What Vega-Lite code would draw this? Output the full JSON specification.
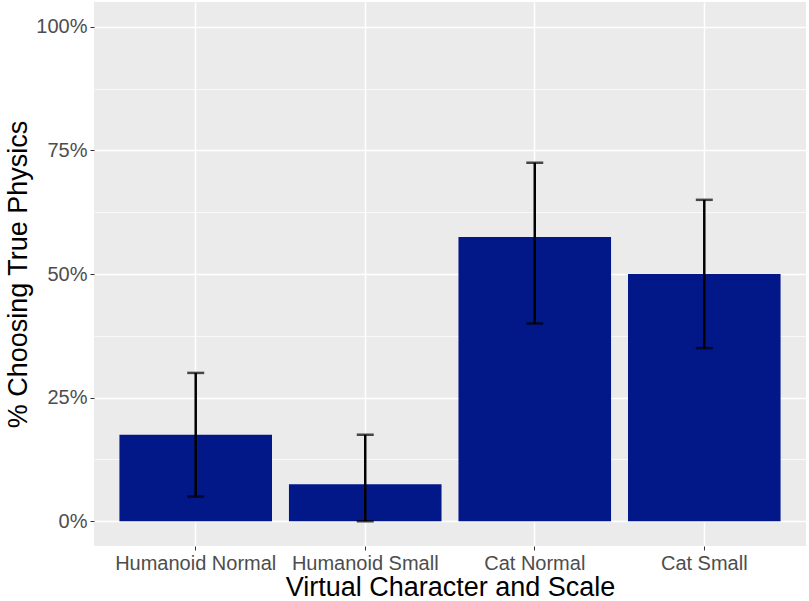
{
  "$schema": "https://vega.github.io/schema/vega-lite/v6.json",
  "width": 712,
  "height": 544,
  "autosize": "none",
  "padding": {"left": 94, "top": 2, "right": 3, "bottom": 55},
  "background": "white",
  "data": {
    "values": [
      {"condition": "Humanoid Normal", "pct": 0.175, "lo": 0.05, "hi": 0.30},
      {"condition": "Humanoid Small", "pct": 0.075, "lo": 0.0, "hi": 0.175},
      {"condition": "Cat Normal", "pct": 0.575, "lo": 0.40, "hi": 0.725},
      {"condition": "Cat Small", "pct": 0.50, "lo": 0.35, "hi": 0.65}
    ]
  },
  "layer": [
    {
      "mark": {"type": "bar", "color": "#021889"},
      "encoding": {
        "x": {
          "field": "condition",
          "type": "nominal",
          "sort": null,
          "scale": {"paddingInner": 0.1, "paddingOuter": 0.15},
          "axis": {
            "title": "Virtual Character and Scale",
            "labelAngle": 0,
            "grid": true,
            "bandPosition": 0.5,
            "gridColor": "white",
            "gridWidth": 1.5,
            "domain": false,
            "tickColor": "#333333",
            "tickSize": 4,
            "labelPadding": 3
          }
        },
        "y": {
          "field": "pct",
          "type": "quantitative",
          "scale": {"domain": [-0.05, 1.05], "nice": false, "zero": false},
          "axis": {
            "title": "% Choosing True Physics",
            "values": [0, 0.25, 0.5, 0.75, 1],
            "format": ".0%",
            "grid": true,
            "gridColor": "white",
            "gridWidth": 1.5,
            "domain": false,
            "tickColor": "#333333",
            "tickSize": 4,
            "labelPadding": 3,
            "titlePadding": 3
          }
        }
      }
    },
    {
      "mark": {"type": "rule", "color": "black", "strokeWidth": 2.5},
      "encoding": {
        "x": {"field": "condition", "type": "nominal", "sort": null},
        "y": {"field": "lo", "type": "quantitative", "axis": null},
        "y2": {"field": "hi"}
      }
    },
    {
      "mark": {"type": "tick", "color": "black", "size": 17, "thickness": 2.5},
      "encoding": {
        "x": {"field": "condition", "type": "nominal", "sort": null},
        "y": {"field": "lo", "type": "quantitative", "axis": null}
      }
    },
    {
      "mark": {"type": "tick", "color": "black", "size": 17, "thickness": 2.5},
      "encoding": {
        "x": {"field": "condition", "type": "nominal", "sort": null},
        "y": {
          "field": "hi",
          "type": "quantitative",
          "axis": {
            "orient": "right",
            "values": [0.125, 0.375, 0.625, 0.875],
            "grid": true,
            "gridColor": "white",
            "gridWidth": 0.7,
            "labels": false,
            "ticks": false,
            "domain": false,
            "title": null
          }
        }
      }
    }
  ],
  "resolve": {"axis": {"y": "independent"}},
  "config": {
    "view": {"fill": "#ebebeb", "stroke": null},
    "font": "Liberation Sans",
    "axis": {
      "labelFont": "Liberation Sans",
      "labelFontSize": 20,
      "labelColor": "#4d4d4d",
      "titleFont": "Liberation Sans",
      "titleFontSize": 27,
      "titleFontWeight": "normal",
      "titleColor": "black",
      "gridOpacity": 1
    },
    "axisX": {"titlePadding": 1}
  }
}
